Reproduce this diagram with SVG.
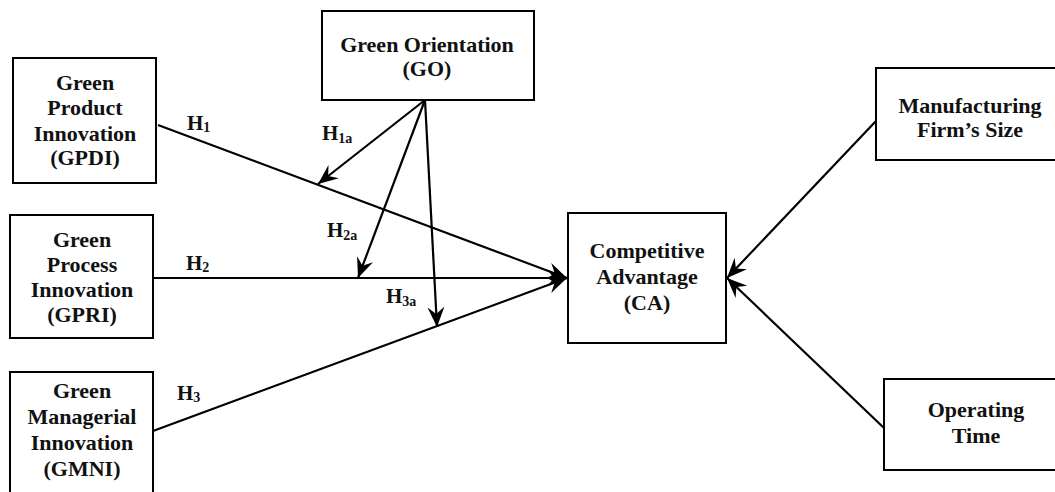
<svg xmlns="http://www.w3.org/2000/svg" width="1055" height="492" viewBox="0 0 1055 492">
<style>
.box{fill:#fff;stroke:#000;stroke-width:2}
.t{font-family:"Liberation Serif","Times New Roman",serif;font-weight:bold;font-size:22px;fill:#111;text-anchor:middle}
.h{font-family:"Liberation Serif","Times New Roman",serif;font-weight:bold;font-size:21px;fill:#111}
.s{font-size:14px}
.c{stroke:#000;stroke-width:2.2;fill:none;marker-end:url(#ah)}
</style>
<defs>
<marker id="ah" markerUnits="userSpaceOnUse" viewBox="-20 -10 22 20" refX="0" refY="0" markerWidth="22" markerHeight="20" orient="auto">
<path d="M0,0 L-20,-8.5 L-13,0 L-20,8.5 z" fill="#000"/>
</marker>
</defs>
<rect width="1055" height="492" fill="#fff"/>
<g id="connectors">
<line class="c" x1="158" y1="125" x2="567" y2="278"/>
<line class="c" x1="153" y1="278" x2="567" y2="278"/>
<line class="c" x1="153" y1="431" x2="567" y2="278"/>
<line class="c" x1="425" y1="100" x2="318" y2="184"/>
<line class="c" x1="425" y1="100" x2="358" y2="278"/>
<line class="c" x1="425" y1="100" x2="437" y2="327"/>
<line class="c" x1="876" y1="121" x2="727" y2="278"/>
<line class="c" x1="884" y1="428" x2="727" y2="278"/>
</g>
<g id="labels">
<text class="h" x="187" y="130">H<tspan class="s" dy="2">1</tspan></text>
<text class="h" x="322" y="140">H<tspan class="s" dy="3">1a</tspan></text>
<text class="h" x="327" y="237">H<tspan class="s" dy="3">2a</tspan></text>
<text class="h" x="186" y="270">H<tspan class="s" dy="2">2</tspan></text>
<text class="h" x="386" y="303">H<tspan class="s" dy="3">3a</tspan></text>
<text class="h" x="177" y="400">H<tspan class="s" dy="2">3</tspan></text>
</g>
<g id="GPDI">
<rect class="box" x="13" y="58" width="143" height="125"/>
<text class="t" x="85" y="90">Green</text>
<text class="t" x="85" y="115">Product</text>
<text class="t" x="85" y="141">Innovation</text>
<text class="t" x="85" y="165">(GPDI)</text>
</g>
<g id="GO">
<rect class="box" x="322" y="11" width="212" height="89"/>
<text class="t" x="427" y="52">Green Orientation</text>
<text class="t" x="427" y="76">(GO)</text>
</g>
<g id="GPRI">
<rect class="box" x="10" y="215" width="143" height="123"/>
<text class="t" x="82" y="247">Green</text>
<text class="t" x="82" y="272">Process</text>
<text class="t" x="82" y="297">Innovation</text>
<text class="t" x="82" y="322">(GPRI)</text>
</g>
<g id="GMNI">
<rect class="box" x="10" y="372" width="143" height="130"/>
<text class="t" x="82" y="398">Green</text>
<text class="t" x="82" y="424">Managerial</text>
<text class="t" x="82" y="450">Innovation</text>
<text class="t" x="82" y="476">(GMNI)</text>
</g>
<g id="CA">
<rect class="box" x="568" y="213" width="158" height="130"/>
<text class="t" x="647" y="258">Competitive</text>
<text class="t" x="647" y="284">Advantage</text>
<text class="t" x="647" y="310">(CA)</text>
</g>
<g id="MFS">
<rect class="box" x="876" y="68" width="190" height="92"/>
<text class="t" x="970" y="113">Manufacturing</text>
<text class="t" x="970" y="137">Firm’s Size</text>
</g>
<g id="OT">
<rect class="box" x="884" y="379" width="190" height="91"/>
<text class="t" x="976" y="417">Operating</text>
<text class="t" x="976" y="443">Time</text>
</g>
</svg>
